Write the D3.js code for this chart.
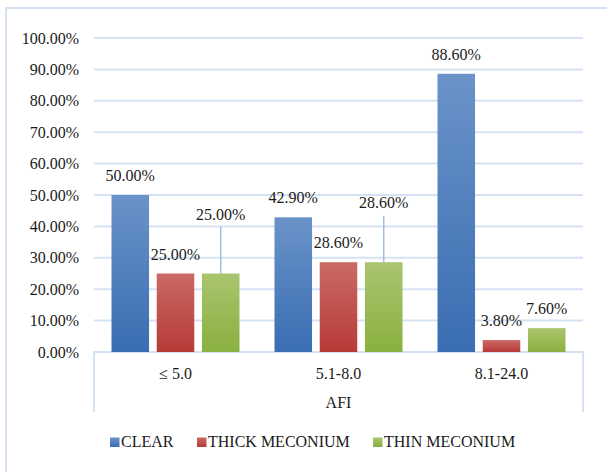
<!DOCTYPE html>
<html>
<head>
<meta charset="utf-8">
<script src="https://cdn.jsdelivr.net/npm/d3@7"></script>
<style>
  body { margin: 0; background: #fff; }
  text { font-family: "Liberation Serif", "Times New Roman", serif; fill: #1a1a1a; }
</style>
</head>
<body>
<div id="container"></div>
<script>
/* DATA */
const categories = ["\u2264 5.0", "5.1-8.0", "8.1-24.0"];
const seriesNames = ["CLEAR", "THICK MECONIUM", "THIN MECONIUM"];
const clear = [50.0, 42.9, 88.6];
const thick = [25.0, 28.6, 3.8];
const thin = [25.0, 28.6, 7.6];
const yTicks = [0, 10, 20, 30, 40, 50, 60, 70, 80, 90, 100];
const axisTitle = "AFI";

/* CONSTANTS */
const width = 607, height = 472;
const plot = { left: 94, right: 583, top: 38, bottom: 352 };
const fontSize = "16px";
const gridColor = "#d5e2f4";
const colors = [
  ["#6a93c9", "#3a6db2"],
  ["#ca6a66", "#b73a37"],
  ["#a9c56f", "#8ab040"]
];

const series = [clear, thick, thin];
const data = categories.map((c, i) => ({
  cat: c,
  values: series.map((s, j) => ({ key: seriesNames[j], j: j, v: s[i] }))
}));

const svg = d3.select("#container").append("svg")
  .attr("width", width)
  .attr("height", height);

// gradients
const defs = svg.append("defs");
colors.forEach((c, j) => {
  const g = defs.append("linearGradient")
    .attr("id", "grad" + j)
    .attr("x1", 0).attr("y1", 0).attr("x2", 0).attr("y2", 1);
  g.append("stop").attr("offset", "0%").attr("stop-color", c[0]);
  g.append("stop").attr("offset", "100%").attr("stop-color", c[1]);
});

// outer frame
svg.append("rect")
  .attr("x", 6).attr("y", 8)
  .attr("width", width + 10).attr("height", height + 10)
  .attr("fill", "none")
  .attr("stroke", gridColor)
  .attr("stroke-width", 2);

/* SCALES */
const y = d3.scaleLinear().domain([0, 100]).range([plot.bottom, plot.top]);
const x0 = d3.scaleBand().domain(categories).range([plot.left, plot.right]);
const x1 = d3.scaleBand().domain(seriesNames)
  .range([17.5, x0.bandwidth() - 17.5])
  .paddingInner(0.17);

// grid lines
svg.append("g")
  .selectAll("line")
  .data(yTicks.filter(d => d > 0))
  .join("line")
  .attr("x1", plot.left).attr("x2", plot.right)
  .attr("y1", d => y(d)).attr("y2", d => y(d))
  .attr("stroke", gridColor)
  .attr("stroke-width", 2);

// y tick labels
const yAxis = d3.axisLeft(y).tickValues(yTicks)
  .tickFormat(d => d.toFixed(2) + "%")
  .tickSize(0).tickPadding(15);
const ya = svg.append("g")
  .attr("transform", `translate(${plot.left},0)`)
  .call(yAxis);
ya.select(".domain").remove();
ya.selectAll("text")
  .attr("font-size", fontSize)
  .attr("font-family", "Liberation Serif")
  .attr("fill", "#1a1a1a");

// category axis box
const boxBottom = 412;
svg.append("path")
  .attr("d", `M${plot.left},${boxBottom}V${plot.bottom}H${plot.right}V${boxBottom}`)
  .attr("fill", "none")
  .attr("stroke", gridColor)
  .attr("stroke-width", 2);

// bars
const groups = svg.append("g")
  .selectAll("g")
  .data(data)
  .join("g")
  .attr("transform", d => `translate(${x0(d.cat)},0)`);

groups.selectAll("rect")
  .data(d => d.values)
  .join("rect")
  .attr("x", d => x1(d.key))
  .attr("width", x1.bandwidth())
  .attr("y", d => y(d.v))
  .attr("height", d => y(0) - y(d.v))
  .attr("fill", d => `url(#grad${d.j})`);

// data labels: green labels in first two groups sit higher with leader lines
const lifted = (ci, j) => j === 2 && ci < 2;
groups.each(function (d, ci) {
  const g = d3.select(this);
  d.values.forEach(v => {
    const cx = x1(v.key) + x1.bandwidth() / 2;
    const top = y(v.v);
    let by = top - 14;
    if (lifted(ci, v.j)) {
      by = top - 54;
      g.append("line")
        .attr("x1", cx).attr("x2", cx)
        .attr("y1", by + 7.5).attr("y2", top)
        .attr("stroke", "#9dbde8")
        .attr("stroke-width", 1.5);
    }
    g.append("text")
      .attr("x", cx).attr("y", by)
      .attr("text-anchor", "middle")
      .attr("font-size", fontSize)
      .text(v.v.toFixed(2) + "%");
  });
});

// category labels
svg.append("g")
  .selectAll("text")
  .data(categories)
  .join("text")
  .attr("x", d => x0(d) + x0.bandwidth() / 2)
  .attr("y", 379)
  .attr("text-anchor", "middle")
  .attr("font-size", fontSize)
  .text(d => d);

svg.append("text")
  .attr("x", (plot.left + plot.right) / 2)
  .attr("y", 407.5)
  .attr("text-anchor", "middle")
  .attr("font-size", fontSize)
  .text(axisTitle);

// legend
const legendX = [110, 197, 373];
const legend = svg.append("g")
  .selectAll("g")
  .data(seriesNames)
  .join("g")
  .attr("transform", (d, i) => `translate(${legendX[i]},437.5)`);
legend.append("rect")
  .attr("width", 9.5).attr("height", 9.5)
  .attr("fill", (d, i) => `url(#grad${i})`);
legend.append("text")
  .attr("x", 11).attr("y", 9.5)
  .attr("font-size", fontSize)
  .text(d => d);
</script>
</body>
</html>
